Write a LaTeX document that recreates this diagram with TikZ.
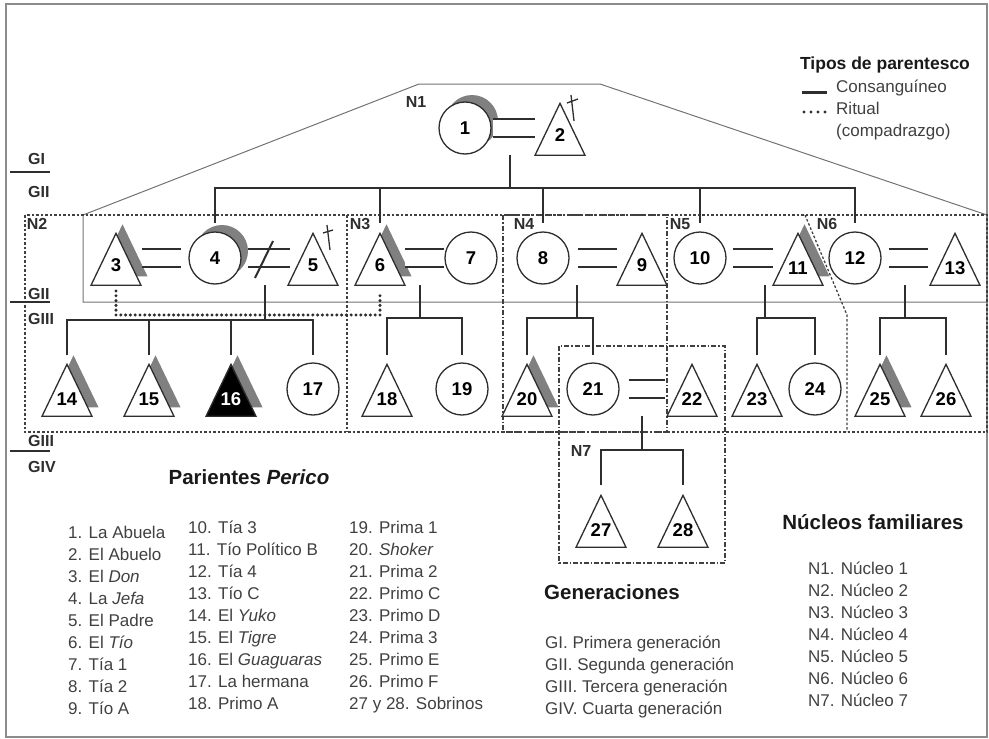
\documentclass[tikz,border=0pt]{standalone}
\usepackage{fontspec}
\setmainfont{Liberation Sans}
\usepackage{tikz}
\usetikzlibrary{shapes.geometric}

\definecolor{ink}{gray}{0.18}
\definecolor{shade}{gray}{0.5}

\begin{document}
\begin{tikzpicture}[x=1pt,y=-1pt,
  kin/.style={ink, line width=2pt},
  wed/.style={ink, line width=2pt, double=white, double distance=16pt},
  ritual/.style={ink, line width=3.4pt, line cap=round, dash pattern=on 0pt off 4.8pt},
  fem/.style={circle, draw=ink, fill=white, line width=1.3pt, minimum size=52pt, inner sep=0pt, font=\fontsize{18.5}{18.5}\bfseries},
  male/.style={isosceles triangle, isosceles triangle apex angle=60, isosceles triangle stretches=true, shape border rotate=90, minimum width=50pt, minimum height=52pt, inner sep=0pt, text height=13pt, text depth=8pt, draw=ink, fill=white, line width=1.3pt, anchor=apex, font=\fontsize{18.5}{18.5}\bfseries},
  moon/.style={preaction={fill=shade, transform canvas={xshift=7pt,yshift=7pt}}},
  band/.style={preaction={fill=shade, transform canvas={xshift=6.5pt,yshift=9pt}}},
  nuc/.style={black!75, line width=1.3pt, dash pattern=on 2.5pt off 2pt},
  nucb/.style={black!75, line width=1.3pt, dash pattern=on 5pt off 2pt on 1.5pt off 2pt},
  tag/.style={font=\fontsize{16}{16}\bfseries, inner sep=0pt, ink},
  gen/.style={font=\fontsize{16}{16}\bfseries, anchor=west, inner sep=0pt, ink},
  list/.style={font=\fontsize{17}{22}\selectfont, align=left, anchor=north west, inner sep=0pt, black!75},
  head/.style={font=\fontsize{20.5}{20.5}\bfseries, inner sep=0pt, black!90}
]
  \useasboundingbox (0,0) rectangle (989,739);
  \draw[black!45, line width=1.5pt] (6,4) rectangle (987,737);

  \draw[black!55, line width=1pt] (83,302) -- (83,215) -- (419,84) -- (600,84) -- (987,215) -- (987,302) -- cycle;
  \draw[nuc] (25,215) rectangle (987,432);
  \draw[nuc] (347,215) -- (347,432);
  \draw[nucb] (503,215) rectangle (667,432);
  \draw[nuc] (805,215) -- (847,315) -- (847,432);
  \draw[nucb] (559,346) rectangle (725,563);

  \node[tag] (n1) at (416,102) {N1};
  \node[tag] (n2) at (37,224) {N2};
  \node[tag] (n3) at (360,224) {N3};
  \node[tag] (n4) at (524,224) {N4};
  \node[tag] (n5) at (680,224) {N5};
  \node[tag] (n6) at (827,224) {N6};
  \node[tag] (n7) at (581,451) {N7};

  \draw[kin] (10,172) -- (50,172);
  \node[gen] (g1) at (28,159) {GI};
  \node[gen] (g2) at (28,192) {GII};
  \draw[kin] (10,302) -- (50,302);
  \node[gen] (g2b) at (28,294) {GII};
  \node[gen] (g3) at (28,319) {GIII};
  \draw[kin] (10,451) -- (50,451);
  \node[gen] (g3b) at (28,441) {GIII};
  \node[gen] (g4) at (28,467) {GIV};

  \node[fem, moon] (p1) at (465,128) {1};
  \node[male] (p2) at (560,102) {2};
  \node[male, band] (p3) at (116,232) {3};
  \node[fem, moon] (p4) at (215,258) {4};
  \node[male] (p5) at (313,232) {5};
  \node[male, band] (p6) at (380,232) {6};
  \node[fem] (p7) at (471,258) {7};
  \node[fem] (p8) at (543,258) {8};
  \node[male] (p9) at (642,232) {9};
  \node[fem] (p10) at (700,258) {10};
  \node[male, band] (p11) at (798,232) {11};
  \node[fem] (p12) at (855,258) {12};
  \node[male] (p13) at (955,232) {13};
  \node[male, band] (p14) at (67,363) {14};
  \node[male, band] (p15) at (149,363) {15};
  \node[male, band, fill=black, text=white] (p16) at (231,363) {16};
  \node[fem] (p17) at (313,389) {17};
  \node[male] (p18) at (387,363) {18};
  \node[fem] (p19) at (462,389) {19};
  \node[male, band] (p20) at (527,363) {20};
  \node[fem] (p21) at (593,389) {21};
  \node[male] (p22) at (692,363) {22};
  \node[male] (p23) at (757,363) {23};
  \node[fem] (p24) at (815,389) {24};
  \node[male, band] (p25) at (880,363) {25};
  \node[male] (p26) at (946,363) {26};
  \node[male] (p27) at (601,494) {27};
  \node[male] (p28) at (683,494) {28};

  \draw[ink, line width=1.3pt] (571,95) -- (574,121) (567,103) -- (578,99);
  \draw[ink, line width=1.3pt] (327,225) -- (330,250) (323,233) -- (333,230);

  \draw[wed, shorten <=1pt, shorten >=25pt] (p1) -- (p2 |- p1);
  \draw[wed, shorten <=26pt, shorten >=7pt] (p3 |- p4) -- (p4);
  \draw[wed, shorten <=6pt, shorten >=23pt] (p4) -- (p5 |- p4);
  \draw[kin] (255,278) -- (273,241);
  \draw[wed, shorten <=25pt] (p6 |- p7) -- (p7);
  \draw[wed, shorten <=8pt, shorten >=25pt] (p8) -- (p9 |- p8);
  \draw[wed, shorten <=6pt, shorten >=25pt] (p10) -- (p11 |- p10);
  \draw[wed, shorten <=7pt, shorten >=27pt] (p12) -- (p13 |- p12);
  \draw[wed, shorten <=9pt, shorten >=27pt] (p21) -- (p22 |- p21);

  \coordinate (u12) at (510,155);
  \draw[kin] (u12) -- ++(0,33) coordinate (b12);
  \draw[kin] (b12 -| p4) ++(0,35) -- (b12 -| p4) -- (b12 -| p12) -- ++(0,35);
  \draw[kin] (b12 -| p6) -- ++(0,35);
  \draw[kin] (b12 -| p8) -- ++(0,35);
  \draw[kin] (b12 -| p10) -- ++(0,35);

  \coordinate (u45) at (265,285);
  \draw[kin] (u45) -- ++(0,35) coordinate (b45);
  \draw[kin] (b45 -| p14) ++(0,35) -- (b45 -| p14) -- (b45 -| p17) -- ++(0,35);
  \draw[kin] (b45 -| p15) -- ++(0,35);
  \draw[kin] (b45 -| p16) -- ++(0,35);

  \coordinate (u67) at (420,285);
  \draw[kin] (u67) -- ++(0,33) coordinate (b67);
  \draw[kin] (b67 -| p18) ++(0,37) -- (b67 -| p18) -- (b67 -| p19) -- ++(0,37);

  \coordinate (u89) at (577,285);
  \draw[kin] (u89) -- ++(0,33) coordinate (b89);
  \draw[kin] (b89 -| p20) ++(0,37) -- (b89 -| p20) -- (b89 -| p21) -- ++(0,37);

  \coordinate (u1011) at (765,285);
  \draw[kin] (u1011) -- ++(0,33) coordinate (b1011);
  \draw[kin] (b1011 -| p23) ++(0,37) -- (b1011 -| p23) -- (b1011 -| p24) -- ++(0,37);

  \coordinate (u1213) at (905,285);
  \draw[kin] (u1213) -- ++(0,33) coordinate (b1213);
  \draw[kin] (b1213 -| p25) ++(0,37) -- (b1213 -| p25) -- (b1213 -| p26) -- ++(0,37);

  \coordinate (u2122) at (642,416);
  \draw[kin] (u2122) -- ++(0,34) coordinate (b2122);
  \draw[kin] (b2122 -| p27) ++(0,35) -- (b2122 -| p27) -- (b2122 -| p28) -- ++(0,35);

  \draw[ritual] ([yshift=-5pt]p3.south) -- ++(0,24) -| ([yshift=-6pt]p6.south);

  \node[head, font=\fontsize{17.5}{17.5}\bfseries] (tipos) at (885,65) {Tipos de parentesco};
  \draw[kin, line width=3pt] (802,92) -- (827,92);
  \node[list, anchor=west] (cons) at (836,88) {Consanguíneo};
  \draw[ritual, dash pattern=on 0pt off 7pt] (804,112) -- (826,112);
  \node[list] (rit) at (836,102) {Ritual\\(compadrazgo)};

  \node[head] (par) at (249,477) {Parientes \textit{Perico}};
  \node[list] (col1) at (68,526) {1. La Abuela\\2. El Abuelo\\3. El \textit{Don}\\4. La \textit{Jefa}\\5. El Padre\\6. El \textit{Tío}\\7. Tía 1\\8. Tía 2\\9. Tío A};
  \node[list] (col2) at (188,521) {10. Tía 3\\11. Tío Político B\\12. Tía 4\\13. Tío C\\14. El \textit{Yuko}\\15. El \textit{Tigre}\\16. El \textit{Guaguaras}\\17. La hermana\\18. Primo A};
  \node[list] (col3) at (349,521) {19. Prima 1\\20. \textit{Shoker}\\21. Prima 2\\22. Primo C\\23. Primo D\\24. Prima 3\\25. Primo E\\26. Primo F\\27 y 28. Sobrinos};

  \node[head] (gtit) at (612,592) {Generaciones};
  \node[list] (gens) at (545,636) {GI. Primera generación\\GII. Segunda generación\\GIII. Tercera generación\\GIV. Cuarta generación};

  \node[head] (ntit) at (873,522) {Núcleos familiares};
  \node[list] (nucs) at (808,562) {N1. Núcleo 1\\N2. Núcleo 2\\N3. Núcleo 3\\N4. Núcleo 4\\N5. Núcleo 5\\N6. Núcleo 6\\N7. Núcleo 7};
\end{tikzpicture}
\end{document}
